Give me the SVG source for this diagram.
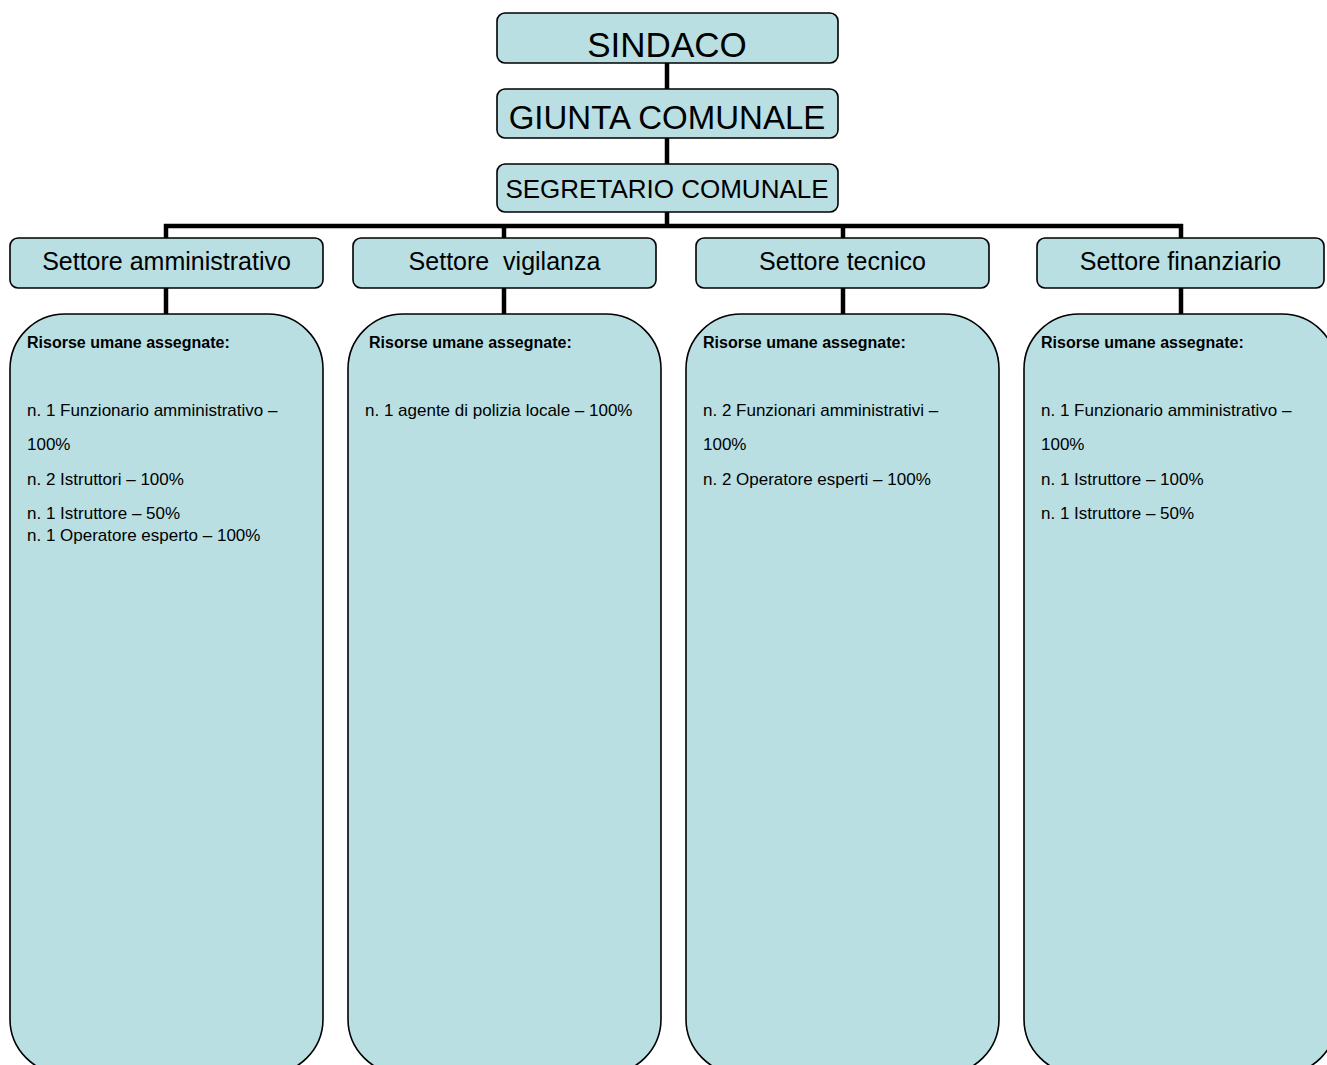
<svg xmlns="http://www.w3.org/2000/svg" width="1327" height="1065" viewBox="0 0 1327 1065">
<style>
.box{fill:#b9dfe3;stroke:#000;stroke-width:1.6}
.t{font-family:"Liberation Sans",Arial,sans-serif;fill:#000}
.c{text-anchor:middle}
.b{font-weight:bold;font-size:16px}
.s{font-size:17px}
.conn{stroke:#000;stroke-width:4.5;fill:none}
</style>
<rect width="1327" height="1065" fill="#fff"/>
<g id="connectors">
<line class="conn" x1="667" y1="63" x2="667" y2="89"/>
<line class="conn" x1="667" y1="138" x2="667" y2="164"/>
<line class="conn" x1="667" y1="212" x2="667" y2="226"/>
<line class="conn" x1="164" y1="226" x2="1183" y2="226"/>
<line class="conn" x1="166" y1="224" x2="166" y2="238"/>
<line class="conn" x1="504" y1="224" x2="504" y2="238"/>
<line class="conn" x1="843" y1="224" x2="843" y2="238"/>
<line class="conn" x1="1181" y1="224" x2="1181" y2="238"/>
<line class="conn" x1="166" y1="288" x2="166" y2="314"/>
<line class="conn" x1="504" y1="288" x2="504" y2="314"/>
<line class="conn" x1="843" y1="288" x2="843" y2="314"/>
<line class="conn" x1="1181" y1="288" x2="1181" y2="314"/>
</g>
<g id="sindaco">
<rect class="box" x="497" y="13" width="341" height="50" rx="8"/>
<text class="t c" x="667" y="57" font-size="35">SINDACO</text>
</g>
<g id="giunta">
<rect class="box" x="497" y="89" width="341" height="49" rx="8"/>
<text class="t c" x="667" y="129" font-size="33">GIUNTA COMUNALE</text>
</g>
<g id="segretario">
<rect class="box" x="497" y="164" width="341" height="48" rx="8"/>
<text class="t c" x="667" y="198" font-size="26">SEGRETARIO COMUNALE</text>
</g>
<g id="settore-amministrativo">
<rect class="box" x="10" y="238" width="313" height="50" rx="8"/>
<text class="t c" x="166.5" y="270" font-size="25">Settore amministrativo</text>
</g>
<g id="settore-vigilanza">
<rect class="box" x="353" y="238" width="303" height="50" rx="8"/>
<text class="t c" x="504.5" y="270" font-size="25" xml:space="preserve">Settore  vigilanza</text>
</g>
<g id="settore-tecnico">
<rect class="box" x="696" y="238" width="293" height="50" rx="8"/>
<text class="t c" x="842.5" y="270" font-size="25">Settore tecnico</text>
</g>
<g id="settore-finanziario">
<rect class="box" x="1037" y="238" width="287" height="50" rx="8"/>
<text class="t c" x="1180.5" y="270" font-size="25">Settore finanziario</text>
</g>
<g id="risorse-amministrativo">
<rect class="box" x="10" y="314" width="313" height="760" rx="55"/>
<text class="t b" x="27" y="348">Risorse umane assegnate:</text>
<text class="t s" x="27" y="416">n. 1 Funzionario amministrativo –</text>
<text class="t s" x="27" y="450">100%</text>
<text class="t s" x="27" y="485">n. 2 Istruttori – 100%</text>
<text class="t s" x="27" y="519">n. 1 Istruttore – 50%</text>
<text class="t s" x="27" y="541">n. 1 Operatore esperto – 100%</text>
</g>
<g id="risorse-vigilanza">
<rect class="box" x="348" y="314" width="313" height="760" rx="55"/>
<text class="t b" x="369" y="348">Risorse umane assegnate:</text>
<text class="t s" x="365" y="416">n. 1 agente di polizia locale – 100%</text>
</g>
<g id="risorse-tecnico">
<rect class="box" x="686" y="314" width="313" height="760" rx="55"/>
<text class="t b" x="703" y="348">Risorse umane assegnate:</text>
<text class="t s" x="703" y="416">n. 2 Funzionari amministrativi –</text>
<text class="t s" x="703" y="450">100%</text>
<text class="t s" x="703" y="485">n. 2 Operatore esperti – 100%</text>
</g>
<g id="risorse-finanziario">
<rect class="box" x="1024" y="314" width="313" height="760" rx="55"/>
<text class="t b" x="1041" y="348">Risorse umane assegnate:</text>
<text class="t s" x="1041" y="416">n. 1 Funzionario amministrativo –</text>
<text class="t s" x="1041" y="450">100%</text>
<text class="t s" x="1041" y="485">n. 1 Istruttore – 100%</text>
<text class="t s" x="1041" y="519">n. 1 Istruttore – 50%</text>
</g>
</svg>
